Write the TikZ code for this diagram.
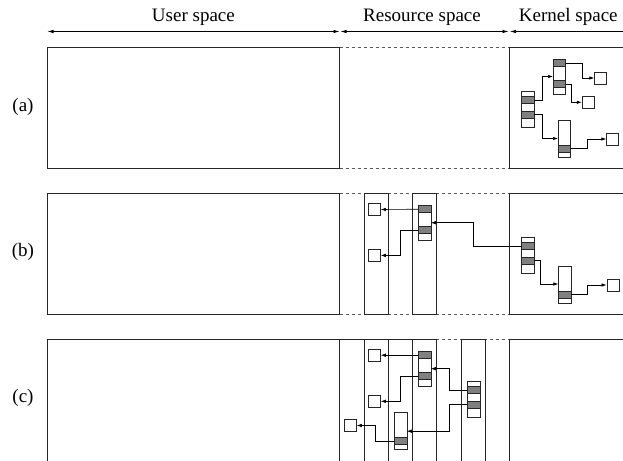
\documentclass[tikz,border=0pt]{standalone}
\usepackage{fontspec}
\setmainfont{Liberation Serif}
\usetikzlibrary{arrows.meta}

\tikzset{
  frame/.style={draw=black!85, line width=0.8pt},
  dashedge/.style={draw=black!65, line width=0.9pt, dash pattern=on 3pt off 3pt},
  column/.style={draw=black!85, line width=0.8pt},
  span/.style={draw, line width=0.7pt, {Latex[length=6pt,width=3.5pt]}-{Latex[length=6pt,width=3.5pt]}},
  link/.style={draw, line width=0.6pt, -{Latex[length=5pt,width=3.5pt]}},
  cellw/.style={draw=black!85, line width=0.5pt, fill=white, minimum width=12.5pt, inner sep=0pt, outer sep=0pt},
  cellg/.style={cellw, fill=black!50},
  box/.style={draw=black!85, line width=0.5pt, fill=white, minimum size=12pt, inner sep=0pt},
  caption/.style={font=\fontsize{19}{21}\selectfont, inner sep=0pt},
  % white / grey / white / grey / white
  kstack/.pic={
    \node[cellw, minimum height=5pt]   (-w1) at (6.25,2.5)   {};
    \node[cellg, minimum height=7pt]   (-g1) at (6.25,8.5)   {};
    \node[cellw, minimum height=7.5pt] (-w2) at (6.25,15.75) {};
    \node[cellg, minimum height=7pt]   (-g2) at (6.25,23)    {};
    \node[cellw, minimum height=9.5pt] (-w3) at (6.25,31.25) {};
  },
  % grey / white / grey / white
  rstack/.pic={
    \node[cellg, minimum height=7pt]  (-g1) at (6.25,3.5)  {};
    \node[cellw, minimum height=14pt] (-w)  at (6.25,14)   {};
    \node[cellg, minimum height=7pt]  (-g2) at (6.25,24.5) {};
    \node[cellw, minimum height=7pt]  (-w2) at (6.25,31.5) {};
  },
  % long white / grey / white
  lstack/.pic={
    \node[cellw, minimum height=25pt] (-w)  at (6.25,12.5) {};
    \node[cellg, minimum height=7pt]  (-g)  at (6.25,28.5) {};
    \node[cellw, minimum height=5pt]  (-w2) at (6.25,34.5) {};
  }
}

\begin{document}
\begin{tikzpicture}[x=1pt,y=-1pt]
\useasboundingbox (0,0) rectangle (623,460);
\clip (0,0) rectangle (623,460);

% ---------- header ----------
\coordinate (u1) at (47.5,31.5);  \coordinate (u2) at (339.5,31.5);
\coordinate (r1) at (340.5,31.5); \coordinate (r2) at (508.5,31.5);
\coordinate (k1) at (510,31.5);   \coordinate (k2) at (640,31.5);
\draw[span] (u1) -- (u2);
\draw[span] (r1) -- (r2);
\draw[span] (k1) -- (k2);
\node[caption] (tu) at (193.4,17) {User space};
\node[caption] (tr) at (422,17)   {Resource space};
\node[caption] (tk) at (568.3,17) {Kernel space};

% ---------- panel (a) ----------
\node[caption] (la) at (23,107) {(a)};
\draw[frame] (47.5,47.5) rectangle (339.5,168.5);
\draw[dashedge] (339.5,47.5) -- (509,47.5);
\draw[dashedge] (339.5,168.5) -- (509,168.5);
\draw[frame] (509,47.5) rectangle (640,168.5);

\pic (A1) at (521.5,91.5) {kstack};
\pic (A2) at (553,59.5)   {rstack};
\pic (A3) at (558,120)    {lstack};
\node[box] (a1) at (600.5,78)  {};
\node[box] (a2) at (588,102.3) {};
\node[box] (a3) at (612.5,139) {};

\draw[link] (A1-g1.east) -- ++(8,0) |- ([yshift=-3pt]A2-w.west);
\draw[link] (A2-g1.east) -- ++(17,0) |- (a1.west);
\draw[link] (A2-g2.east) -- ++(6,0) |- (a2.west);
\draw[link] (A1-g2.east) -- ++(8,0) |- ([yshift=-6pt]A3-w.west);
\draw[link] (A3-g.east) -- ++(16.5,0) |- (a3.west);

% ---------- panel (b) ----------
\node[caption] (lb) at (23,252) {(b)};
\draw[frame] (47.5,193.3) rectangle (339.5,314.3);
\draw[dashedge] (339.5,193.3) -- (509,193.3);
\draw[dashedge] (339.5,314.3) -- (509,314.3);
\draw[column] (364,193.3) rectangle (388.3,314.3);
\draw[column] (412.3,193.3) rectangle (436.7,314.3);
\draw[frame] (509,193.3) rectangle (640,314.3);

\node[box] (b1) at (374.5,209.5) {};
\node[box] (b2) at (374.5,255.4) {};
\pic (BR) at (418.3,205.7) {rstack};
\pic (BK) at (521.7,237.3) {kstack};
\pic (BL) at (558.3,266)   {lstack};
\node[box] (b3) at (612.8,285) {};

\draw[link] (BR-g1.west) -- (b1.east);
\draw[link] (BR-g2.west) -- ++(-18.3,0) |- (b2.east);
\draw[link] (BK-g1.west) -- ++(-48.4,0) |- ([yshift=-3pt]BR-w.east);
\draw[link] (BK-g2.east) -- ++(6.5,0) |- ([yshift=-5.5pt]BL-w.west);
\draw[link] (BL-g.east) -- ++(16.5,0) |- (b3.west);

% ---------- panel (c) ----------
\node[caption] (lc) at (23,398) {(c)};
\draw[frame] (47.5,470) -- (47.5,339.3) -- (339.5,339.3) -- (339.5,470);
\draw[dashedge] (339.5,339.3) -- (509,339.3);
\draw[column] (339.5,470) -- (339.5,339.3) -- (364,339.3) -- (364,470);
\draw[column] (364,339.3) -- (388.3,339.3) -- (388.3,470);
\draw[column] (388.3,339.3) -- (412.3,339.3) -- (412.3,470);
\draw[column] (412.3,339.3) -- (436.7,339.3) -- (436.7,470);
\draw[column] (461,470) -- (461,339.3) -- (485.7,339.3) -- (485.7,470);
\draw[frame] (509,470) -- (509,339.3) -- (640,339.3);

\node[box] (c1) at (374.5,355.2) {};
\node[box] (c2) at (374.5,401.3) {};
\node[box] (c3) at (350.5,425.5) {};
\pic (CA) at (418.3,351.7) {rstack};
\pic (CB) at (467.3,381.7) {kstack};
\pic (CC) at (394.3,412.7) {lstack};

\draw[link] (CA-g1.west) -- (c1.east);
\draw[link] (CA-g2.west) -- ++(-18.3,0) |- (c2.east);
\draw[link] (CB-g1.west) -- ++(-18.3,0) |- ([yshift=-3pt]CA-w.east);
\draw[link] (CB-g2.west) -- ++(-18.3,0) |- ([yshift=-6pt]CC-w.east);
\draw[link] (CC-g.west) -- ++(-18.6,0) |- (c3.east);
\end{tikzpicture}
\end{document}
